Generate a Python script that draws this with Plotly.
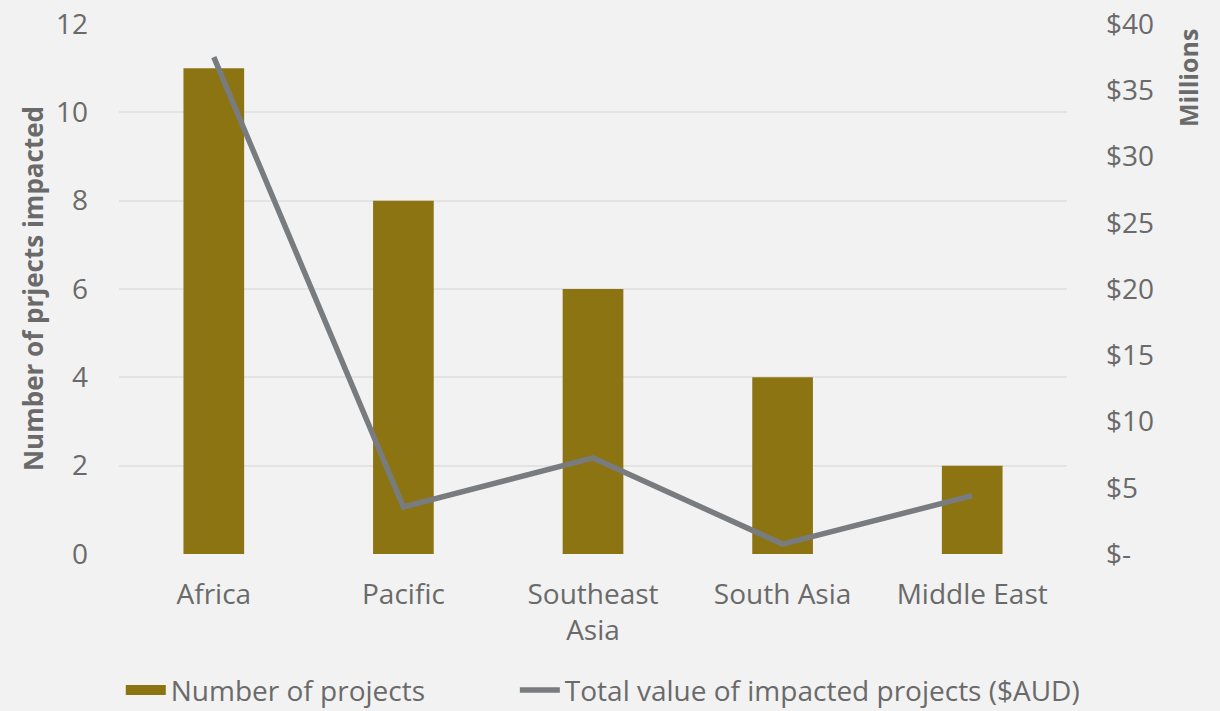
import plotly.graph_objects as go

# Regions and values
regions = ["Africa", "Pacific", "Southeast<br>Asia", "South Asia", "Middle East"]
project_counts = [11, 8, 6, 4, 2]
total_value_millions = [37.5, 3.55, 7.25, 0.75, 4.4]

count_ticks = [0, 2, 4, 6, 8, 10, 12]
value_ticks = [0, 5, 10, 15, 20, 25, 30, 35, 40]
value_tick_text = ["$-", "$5", "$10", "$15", "$20", "$25", "$30", "$35", "$40"]

text_grey = "#6a6a6a"
bar_colour = "#8c7413"
line_colour = "#787c7e"
font_family = "Open Sans, Noto Sans, sans-serif"

fig = go.Figure()

fig.add_trace(go.Bar(
    x=regions,
    y=project_counts,
    name="Number of projects",
    marker=dict(color=bar_colour, line=dict(width=0)),
    width=0.32,
    yaxis="y",
    showlegend=False,
))

# wide legend swatch for the bars
fig.add_trace(go.Scatter(
    x=[None], y=[None],
    name="Number of projects",
    mode="lines",
    line=dict(color=bar_colour, width=20),
    showlegend=True,
    legend="legend",
))

fig.add_trace(go.Scatter(
    x=regions,
    y=total_value_millions,
    name="Total value of impacted projects ($AUD)",
    mode="lines",
    line=dict(color=line_colour, width=5.5),
    yaxis="y2",
    legend="legend2",
))

legend_style = dict(
    orientation="h",
    xref="container",
    yref="container",
    xanchor="left",
    y=0.029,
    yanchor="middle",
    font=dict(size=28, color=text_grey),
    bgcolor="rgba(0,0,0,0)",
    itemwidth=40,
)

fig.update_layout(
    width=1220,
    height=711,
    margin=dict(l=119, r=153, t=24, b=157, autoexpand=False),
    paper_bgcolor="#f2f2f2",
    plot_bgcolor="#f2f2f2",
    font=dict(family=font_family, size=28, color=text_grey),
    showlegend=True,
    legend=dict(x=0.099, **legend_style),
    legend2=dict(x=0.422, **legend_style),
    xaxis=dict(
        type="category",
        showgrid=False,
        showline=False,
        zeroline=False,
        ticks="",
        ticklabelstandoff=21,
        automargin=False,
        tickfont=dict(size=28, color=text_grey),
    ),
    yaxis=dict(
        range=[0, 12],
        tickvals=count_ticks,
        showgrid=True,
        gridcolor="#e3e3e3",
        gridwidth=1.5,
        zeroline=False,
        showline=False,
        ticks="",
        ticklabelstandoff=30,
        automargin=False,
        tickfont=dict(size=28, color=text_grey),
    ),
    yaxis2=dict(
        range=[0, 40],
        tickvals=value_ticks,
        ticktext=value_tick_text,
        overlaying="y",
        side="right",
        showgrid=False,
        zeroline=False,
        showline=False,
        ticks="",
        ticklabelstandoff=38,
        automargin=False,
        tickfont=dict(size=28, color=text_grey),
    ),
    annotations=[
        dict(
            text="<b>Number of prjects impacted</b>",
            xref="paper", yref="paper",
            x=-0.0907, y=0.5,
            xanchor="center", yanchor="middle",
            textangle=-90,
            showarrow=False,
            font=dict(size=26, color=text_grey),
        ),
        dict(
            text="<b>Millions</b>",
            xref="paper", yref="paper",
            x=1.1277, y=0.898,
            xanchor="center", yanchor="middle",
            textangle=-90,
            showarrow=False,
            font=dict(size=25, color=text_grey),
        ),
    ],
)

fig.write_html("out.html")
